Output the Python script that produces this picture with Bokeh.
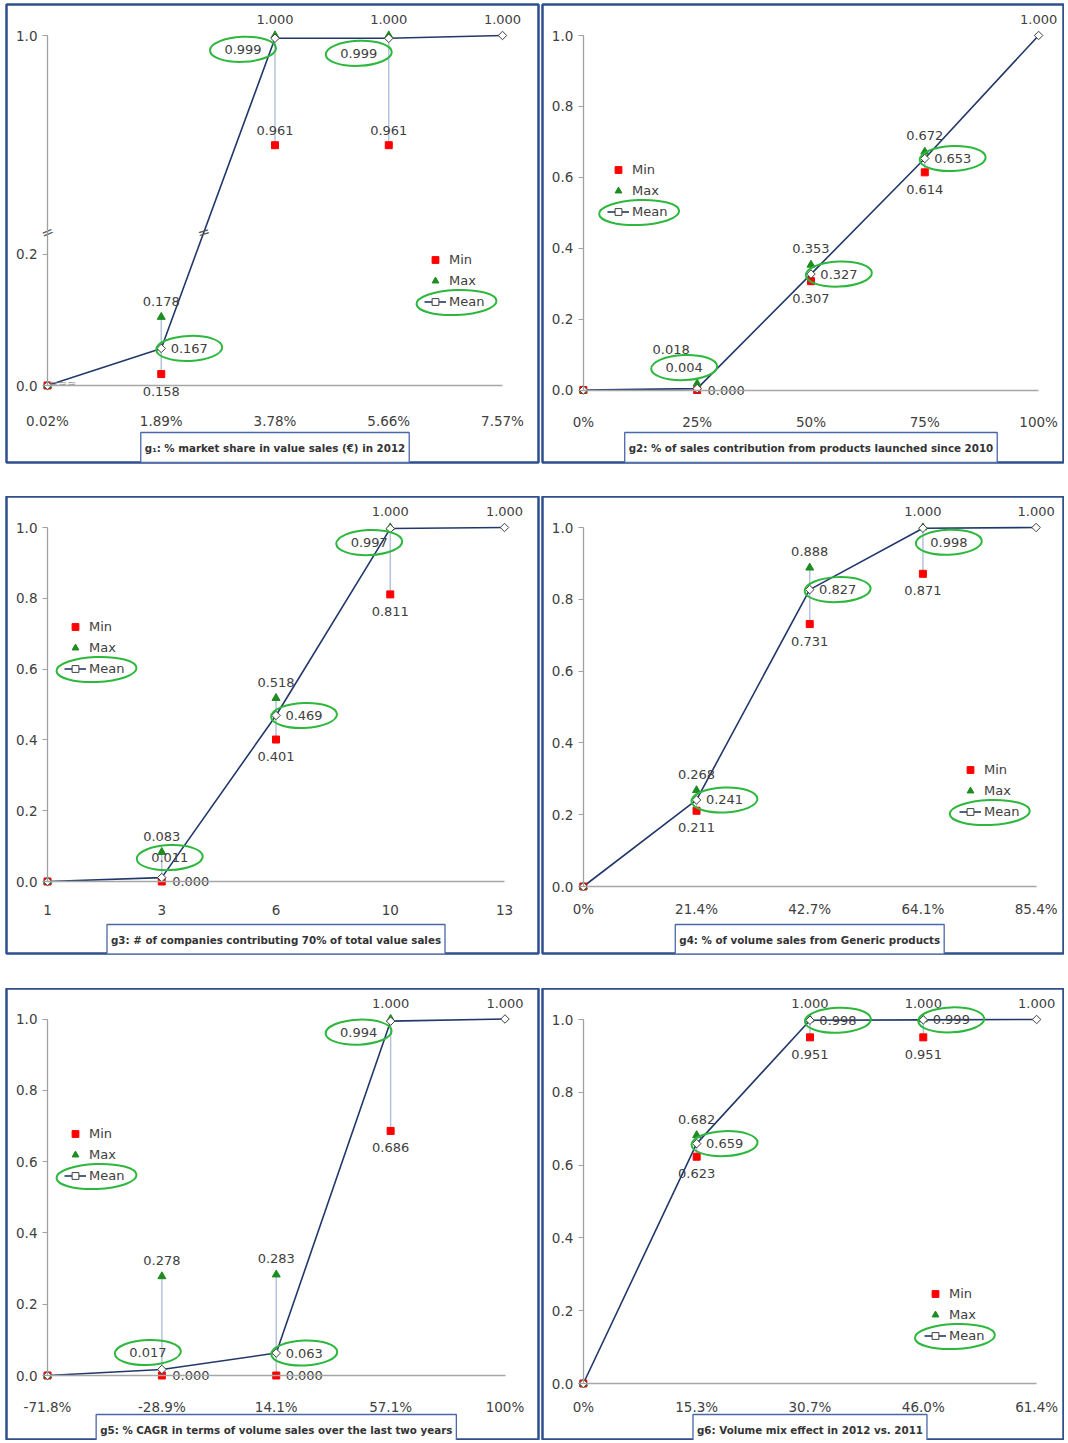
import numpy as np
from bokeh.plotting import figure
from bokeh.layouts import gridplot
from bokeh.models import (ColumnDataSource, Range1d, LinearAxis, FixedTicker, Label,
                          Legend, LegendItem, PrintfTickFormatter)
from bokeh.core.properties import value
from bokeh.embed import file_html
from bokeh.resources import INLINE

# ---------------- data ----------------
g1_ticks = ["0.02%", "1.89%", "3.78%", "5.66%", "7.57%"]
g1_min = [0.0, 0.158, 0.961, 0.961]
g1_max = [0.0, 0.178, 1.000, 1.000]
g1_mean = [0.0, 0.167, 0.999, 0.999, 1.000]
g1_yticks = [0.0, 0.2, 1.0]
g1_caption = "g\u2081: % market share in value sales (\u20ac) in 2012"

g2_ticks = ["0%", "25%", "50%", "75%", "100%"]
g2_min = [0.0, 0.000, 0.307, 0.614]
g2_max = [0.0, 0.018, 0.353, 0.672]
g2_mean = [0.0, 0.004, 0.327, 0.653, 1.000]
g2_caption = "g2: % of sales contribution from products launched since 2010"

g3_ticks = ["1", "3", "6", "10", "13"]
g3_min = [0.0, 0.000, 0.401, 0.811]
g3_max = [0.0, 0.083, 0.518, 1.000]
g3_mean = [0.0, 0.011, 0.469, 0.997, 1.000]
g3_caption = "g3: # of companies contributing 70% of total value sales"

g4_ticks = ["0%", "21.4%", "42.7%", "64.1%", "85.4%"]
g4_min = [0.0, 0.211, 0.731, 0.871]
g4_max = [0.0, 0.268, 0.888, 1.000]
g4_mean = [0.0, 0.241, 0.827, 0.998, 1.000]
g4_caption = "g4: % of volume sales from Generic products"

g5_ticks = ["-71.8%", "-28.9%", "14.1%", "57.1%", "100%"]
g5_min = [0.0, 0.000, 0.000, 0.686]
g5_max = [0.0, 0.278, 0.283, 1.000]
g5_mean = [0.0, 0.017, 0.063, 0.994, 1.000]
g5_caption = "g5: % CAGR in terms of volume sales over the last two years"

g6_ticks = ["0%", "15.3%", "30.7%", "46.0%", "61.4%"]
g6_min = [0.0, 0.623, 0.951, 0.951]
g6_max = [0.0, 0.682, 1.000, 1.000]
g6_mean = [0.0, 0.659, 0.998, 0.999, 1.000]
g6_caption = "g6: Volume mix effect in 2012 vs. 2011"

std_yticks = [0.0, 0.2, 0.4, 0.6, 0.8, 1.0]

# ---------------- layout / style ----------------
FONT = "DejaVu Sans"
TXT = "#404040"
BORDER = "#2F4F8F"
GREEN_RING = "#2DB83D"
LINE_C = "#22386B"
HILO_C = "#B4C3DE"

FIG_W = [540, 524]
MB_L = [6, 2]
MB_R = [2, 0]
FIG_H = [496, 492, 452]
MB_T = [4, 0, 0]
MB_B = [34, 35, 0]

# frame boxes on the page (left, right, top, bottom)
FRAMES = {1: (6, 538, 4, 462), 2: (542, 1066, 4, 462),
          3: (6, 538, 496, 953), 4: (542, 1066, 496, 953),
          5: (6, 538, 988, 1440), 6: (542, 1066, 988, 1440)}
# page pixel of x-index 0, x-index 4, y value 0, y value 1
AXES_PX = {1: (47, 502, 385, 35), 2: (583, 1040, 389.5, 35),
           3: (47, 504, 881, 527), 4: (583, 1037.5, 886, 527),
           5: (47, 504.5, 1375, 1018.5), 6: (583, 1038, 1383, 1019)}
XSTAND = {1: 27, 2: 24, 3: 23, 4: 14, 5: 23, 6: 15}
CAP_Y = {1: 447, 2: 447, 3: 939, 4: 939, 5: 1429, 6: 1429}
LEG = {1: (435, 259), 2: (618, 169), 3: (75, 626), 4: (970, 769), 5: (75, 1133), 6: (935, 1293)}
DEFAULT_OFF = {"max": (0, -16), "min": (0, 17), "mean": (28, 0)}
LBL_EXC = {
    1: {("min", 2): (0, -15), ("min", 3): (0, -15), ("mean", 2): (-32, 11), ("mean", 3): (-30, 15)},
    2: {("max", 1): (-26, -34), ("mean", 1): (-13, -21), ("min", 1): (29, 0)},
    3: {("mean", 1): (8, -20), ("min", 1): (29, 0), ("mean", 3): (-21, 14)},
    4: {("mean", 3): (26, 14)},
    5: {("mean", 1): (-14, -17), ("min", 1): (29, 0), ("min", 2): (28, 0), ("mean", 3): (-32, 11)},
    6: {},
}

# broken y scale of g1 (value -> display height, 1.0 = top)
BRK_V = [0.0, 0.154, 0.2, 0.93, 1.0]
BRK_D = [0.0, 0.0, 0.375, 0.4375, 1.0]


def g1_disp(v):
    return np.interp(np.asarray(v, dtype=float), BRK_V, BRK_D)


def clean(t):
    t = float(t)
    return int(t) if t.is_integer() else t


panels = [
    (1, g1_ticks, g1_min, g1_max, g1_mean, g1_caption),
    (2, g2_ticks, g2_min, g2_max, g2_mean, g2_caption),
    (3, g3_ticks, g3_min, g3_max, g3_mean, g3_caption),
    (4, g4_ticks, g4_min, g4_max, g4_mean, g4_caption),
    (5, g5_ticks, g5_min, g5_max, g5_mean, g5_caption),
    (6, g6_ticks, g6_min, g6_max, g6_mean, g6_caption),
]


def build(k, ticks, vmin, vmax, vmean, caption):
    col, row = (k - 1) % 2, (k - 1) // 2
    L, R, T, B = FRAMES[k]
    x0p, x4p, y0p, y1p = AXES_PX[k]
    sx = (x4p - x0p) / (len(ticks) - 1)
    sy = (y0p - y1p)

    def to_data(px, py):
        return (px - x0p) / sx, (y0p - py) / sy

    disp = g1_disp if k == 1 else (lambda v: np.asarray(v, dtype=float))

    p = figure(width=FIG_W[col], height=FIG_H[row],
               x_range=Range1d((L - x0p) / sx, (R - x0p) / sx),
               y_range=Range1d((y0p - B) / sy, (y0p - T) / sy),
               x_axis_type=None, y_axis_type=None,
               toolbar_location=None, output_backend="svg",
               min_border_left=MB_L[col], min_border_right=MB_R[col],
               min_border_top=MB_T[row], min_border_bottom=MB_B[row],
               background_fill_color="white", border_fill_color="white",
               outline_line_color=BORDER, outline_line_width=2.5)

    # axes
    if k == 1:
        yt = [clean(t) for t in g1_disp(g1_yticks)]
        yax = LinearAxis(fixed_location=0, bounds=(0, 1), ticker=FixedTicker(ticks=yt),
                         major_label_overrides={t: "%.1f" % v for t, v in zip(yt, g1_yticks)})
    else:
        yax = LinearAxis(fixed_location=0, bounds=(0, 1), ticker=FixedTicker(ticks=std_yticks),
                         formatter=PrintfTickFormatter(format="%.1f"))
    yax.axis_line_color = "#A0A0A0"
    yax.axis_line_width = 1.3
    yax.major_tick_line_color = "#A0A0A0"
    yax.major_tick_out = 5
    yax.major_tick_in = 0
    yax.minor_tick_line_color = None
    yax.major_label_standoff = 5
    yax.major_label_text_font = FONT
    yax.major_label_text_font_size = "13.5px"
    yax.major_label_text_color = TXT
    p.add_layout(yax, "left")

    xi = list(range(len(ticks)))
    xax = LinearAxis(fixed_location=0, bounds=(0, len(ticks) - 1), ticker=FixedTicker(ticks=xi),
                     major_label_overrides={i: t for i, t in zip(xi, ticks)})
    xax.axis_line_color = "#A6A6A6"
    xax.axis_line_width = 1.3
    xax.major_tick_line_color = None
    xax.major_tick_out = 0
    xax.major_tick_in = 0
    xax.minor_tick_line_color = None
    xax.major_label_standoff = XSTAND[k]
    xax.major_label_text_font = FONT
    xax.major_label_text_font_size = "13.5px"
    xax.major_label_text_color = TXT
    p.add_layout(xax, "below")

    n = len(vmin)
    xm = xi[:n]
    dmin, dmax, dmean = disp(vmin), disp(vmax), disp(vmean)

    # high-low lines
    p.segment(x0=xm, y0=dmin, x1=xm, y1=dmax, line_color=HILO_C, line_width=1.5)
    r_line = p.line(xi, dmean, line_color=LINE_C, line_width=1.6)
    r_min = p.scatter(xm, dmin, marker="square", size=7, fill_color="#FF0000", line_color="#FF0000")
    r_max = p.scatter(xm, dmax, marker="triangle", size=8, fill_color="#1E8C1E", line_color="#1E8C1E")
    r_mean = p.scatter(xi, dmean, marker="square", angle=np.pi / 4, size=6,
                       fill_color="white", line_color="#404040", line_width=1)

    # data labels
    lx, ly, lt, ldx, ldy = [], [], [], [], []
    ex, ey = [], []
    series = [("max", vmax, dmax, range(1, n)), ("min", vmin, dmin, range(1, n)),
              ("mean", vmean, dmean, range(1, len(vmean)))]
    for name, vals, dvals, idxs in series:
        for i in idxs:
            if name == "mean" and i == len(vmean) - 1:
                dx, dy = (0, -16)
            else:
                dx, dy = LBL_EXC[k].get((name, i), DEFAULT_OFF[name])
            lx.append(xi[i]); ly.append(float(dvals[i])); lt.append("%.3f" % vals[i])
            ldx.append(dx); ldy.append(dy)
            if name == "mean" and i < len(vmean) - 1:
                ex.append(xi[i] + dx / sx); ey.append(float(dvals[i]) - dy / sy)
    src = ColumnDataSource(dict(x=lx, y=ly, text=lt, dx=ldx, dy=ldy))
    p.text(x="x", y="y", text="text", x_offset="dx", y_offset="dy", source=src,
           text_font=value(FONT), text_font_size="13px", text_color=TXT,
           text_align="center", text_baseline="middle")

    # legend
    mx, ry = LEG[k]
    leg_top = ry - 8.5
    leg_h = 3 * 17 + 2 * 4
    legend = Legend(items=[LegendItem(label=value("Min"), renderers=[r_min]),
                           LegendItem(label=value("Max"), renderers=[r_max]),
                           LegendItem(label=value("Mean"), renderers=[r_line, r_mean])],
                    location=(mx - 11 - L, B - (leg_top + leg_h)),
                    orientation="vertical", padding=0, margin=0, spacing=4,
                    glyph_width=22, glyph_height=17, label_height=17, label_standoff=3,
                    label_text_font=FONT, label_text_font_size="13px", label_text_color=TXT,
                    background_fill_alpha=0, border_line_alpha=0)
    p.add_layout(legend)

    # hand-drawn style rings
    lgx, lgy = to_data(mx + 21, ry + 43)
    ex.append(lgx); ey.append(lgy)
    ew = [66] * (len(ex) - 1) + [80]
    p.ellipse(x=ex, y=ey, width=ew, height=25, width_units="screen", height_units="screen",
              angle=0.04, fill_color=None, line_color=GREEN_RING, line_width=2)

    # caption
    cx, cy = to_data(0, CAP_Y[k])
    p.add_layout(Label(x=2, y=cy, text=caption, text_align="center", text_baseline="middle",
                       text_font=FONT, text_font_size="10.3px", text_font_style="bold",
                       text_color="#333333", border_line_color="#4A67A8", border_line_width=1.3,
                       background_fill_color="white", padding=(4, 9)))

    if k == 1:
        brk = BRK_D[3]
        d1, d2 = float(dmean[1]), float(dmean[2])
        xb = 1 + (brk - d1) / (d2 - d1)
        p.text(x=[0, xb], y=[brk, brk], text=["=", "="], angle=[0.4, 0.3],
               text_font=value(FONT), text_font_size="15px", text_color="#555555",
               text_align="center", text_baseline="middle")
        wx, wy = to_data(62, 383)
        p.text(x=[wx], y=[wy], text=["\u2248\u2248\u2248"], text_font=value(FONT),
               text_font_size="11px", text_color="#9A9A9A",
               text_align="center", text_baseline="middle")
    return p


figs = [build(*args) for args in panels]
grid = gridplot([[figs[0], figs[1]], [figs[2], figs[3]], [figs[4], figs[5]]],
                toolbar_location=None)

open("out.html", "w").write(file_html(grid, INLINE))
